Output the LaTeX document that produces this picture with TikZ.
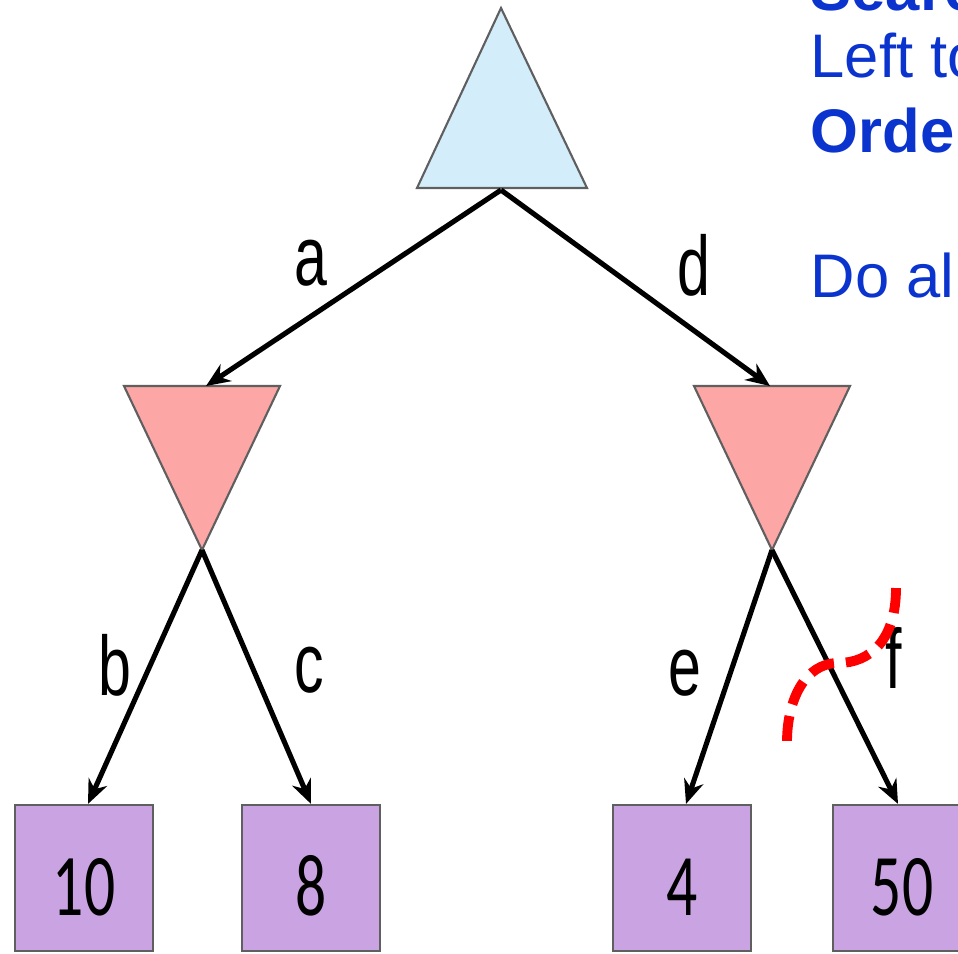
\documentclass[tikz,border=0pt]{standalone}
\usepackage{fontspec}
\setmainfont{Liberation Sans}
\newfontfamily\leafFont{Carlito}
\usepackage{graphicx}
\usetikzlibrary{arrows.meta, positioning, calc}
\definecolor{maxBlue}{RGB}{212,237,251}
\definecolor{minPink}{RGB}{252,166,166}
\definecolor{leafPurple}{RGB}{202,164,226}
\definecolor{shapeEdge}{RGB}{95,95,95}
\definecolor{noteBlue}{RGB}{10,52,205}
\newcommand{\narrow}[1]{\scalebox{0.7}[1]{#1}}
\tikzset{
    maxTri/.style={fill=maxBlue, draw=shapeEdge, line width=0.6pt},
    minTri/.style={fill=minPink, draw=shapeEdge, line width=0.6pt},
    treeEdge/.style={->, line width=1.45pt, black},
    edgeLabel/.style={anchor=base, inner sep=0pt, font=\fontsize{24}{24}\selectfont}
}

\begin{document}
\begin{tikzpicture}[x=0.01cm, y=-0.01cm, >={Stealth[length=2.4mm, width=2mm]}]

        % --- Styles ---
        \tikzset{
            leafBox/.style={rectangle, draw=shapeEdge, fill=leafPurple, line width=0.6pt, minimum width=1.38cm, minimum height=1.46cm, inner sep=0pt, text height=0.74cm, text depth=0pt, font=\leafFont\fontsize{25}{25}\selectfont},
            noteText/.style={anchor=base west, inner sep=0pt, text=noteBlue, font=\fontsize{17.5}{17.5}\selectfont},
            pruneCut/.style={draw=red, line width=2.8pt, dash pattern=on 0.25cm off 0.12cm}
        }

        % --- Frame ---
        \useasboundingbox (0,0) rectangle (958,953);
        \clip (0,0) rectangle (958,953);

        % --- Coordinates ---
        \coordinate (rootTop) at (501,8);
        \coordinate (rootL) at (417,188);
        \coordinate (rootR) at (587,188);
        \coordinate (rootB) at (501,190);

        \coordinate (minAL) at (124,386);
        \coordinate (minAR) at (280,386);
        \coordinate (minAB) at (202,550);
        \coordinate (minAIn) at (206,386);

        \coordinate (minBL) at (694,386);
        \coordinate (minBR) at (850,386);
        \coordinate (minBB) at (772,550);
        \coordinate (minBIn) at (770,386);

        % 1. Draw Triangles
        \draw[maxTri] (rootTop) -- (rootR) -- (rootL) -- cycle;
        \draw[minTri] (minAL) -- (minAR) -- (minAB) -- cycle;
        \draw[minTri] (minBL) -- (minBR) -- (minBB) -- cycle;

        % 2. Draw Leaves
        \node[leafBox] (leaf1) at (84,878) {\narrow{10}};
        \node[leafBox] (leaf2) at (311,878) {\narrow{8}};
        \node[leafBox] (leaf3) at (682,878) {\narrow{4}};
        \node[leafBox] (leaf4) at (902,878) {\narrow{50}};

        % 3. Draw Edges
        \draw[treeEdge] (rootB) -- (minAIn);
        \draw[treeEdge] (rootB) -- (minBIn);
        \draw[treeEdge] (minAB) -- ($(leaf1.north)+(4,0)$);
        \draw[treeEdge] (minAB) -- (leaf2.north);
        \draw[treeEdge] (minBB) -- ($(leaf3.north)+(4,0)$);
        \draw[treeEdge] (minBB) -- ($(leaf4.north)+(-4,0)$);

        % 4. Edge Labels
        \node[edgeLabel] (lblA) at (311,285) {\narrow{a}};
        \node[edgeLabel] (lblD) at (694,295) {\narrow{d}};
        \node[edgeLabel] (lblB) at (115,695) {\narrow{b}};
        \node[edgeLabel] (lblC) at (309,692) {\narrow{c}};
        \node[edgeLabel] (lblE) at (685,695) {\narrow{e}};
        \node[edgeLabel] (lblF) at (894,688) {\narrow{f}};

        % 5. Pruning Cut
        \draw[pruneCut] (896,588) .. controls (896,640) and (870,663) .. (838,663)
                                  .. controls (805,663) and (787,700) .. (787,742);

        % 6. Notes
        \node[noteText, font=\bfseries\fontsize{17.5}{17.5}\selectfont] (note1) at (810,10) {Search};
        \node[noteText] (note2) at (810,77) {Left to};
        \node[noteText, font=\bfseries\fontsize{17.5}{17.5}\selectfont] (note3) at (810,152) {Order};
        \node[noteText] (note4) at (810,297) {Do all};

\end{tikzpicture}
\end{document}
